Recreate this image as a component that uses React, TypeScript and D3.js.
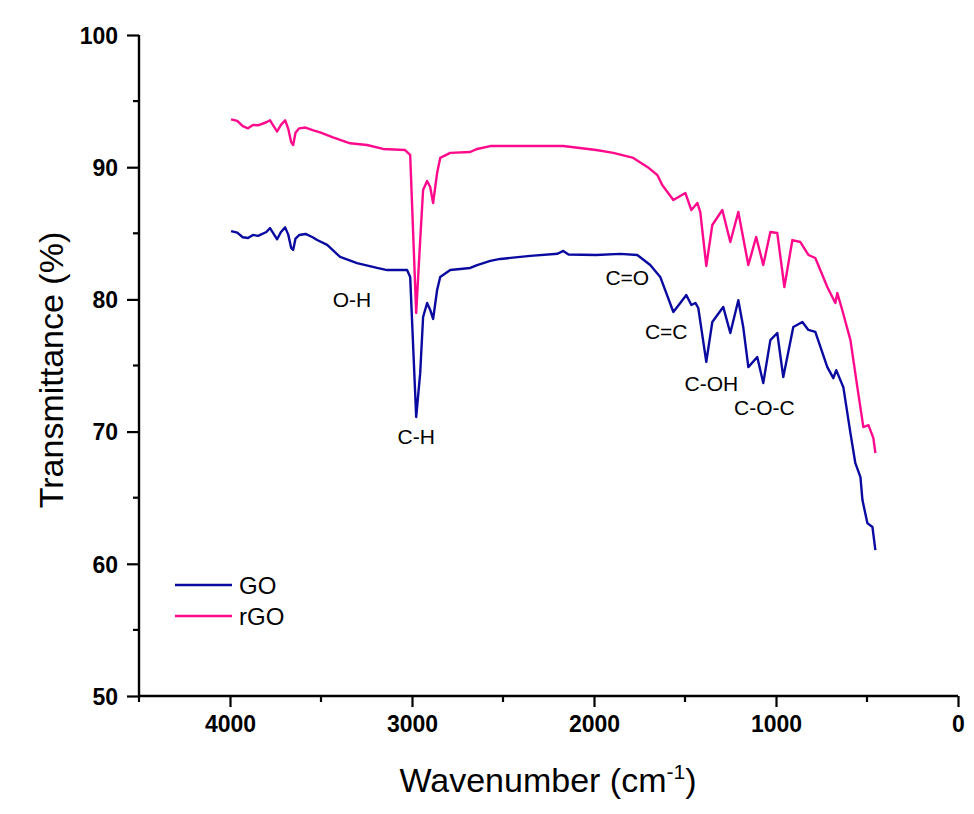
import React, { useEffect, useRef } from 'react';
import * as d3 from 'd3';

// FTIR spectra (wavenumber cm-1, transmittance %)
const waveGO = [3994, 3960, 3930, 3901, 3874, 3846, 3800, 3780, 3755, 3741, 3720, 3697, 3680, 3664, 3653, 3640, 3620, 3585, 3546, 3521, 3466, 3395, 3302, 3192, 3137, 3027, 3010, 2977, 2955, 2939, 2917, 2900, 2884, 2862, 2845, 2790, 2680, 2642, 2570, 2515, 2350, 2200, 2169, 2140, 1988, 1856, 1762, 1691, 1636, 1564, 1526, 1493, 1465, 1443, 1427, 1383, 1350, 1290, 1251, 1207, 1180, 1152, 1103, 1070, 1031, 993, 960, 905, 855, 822, 784, 718, 685, 669, 630, 591, 564, 536, 525, 498, 470, 454];
const transGO = [85.17, 85.05, 84.7, 84.64, 84.88, 84.8, 85.1, 85.4, 84.85, 84.55, 85.1, 85.45, 84.9, 83.9, 83.74, 84.6, 84.87, 84.95, 84.7, 84.49, 84.12, 83.21, 82.75, 82.38, 82.22, 82.22, 81.7, 71.1, 74.42, 78.67, 79.73, 79.2, 78.52, 80.71, 81.7, 82.22, 82.38, 82.6, 82.91, 83.06, 83.29, 83.45, 83.67, 83.4, 83.36, 83.44, 83.36, 82.6, 81.7, 79.05, 79.73, 80.33, 79.58, 79.73, 79.35, 75.27, 78.29, 79.43, 77.46, 79.94, 77.91, 74.88, 75.64, 73.67, 76.92, 77.46, 74.12, 77.91, 78.29, 77.69, 77.54, 74.88, 74.04, 74.65, 73.36, 69.88, 67.61, 66.56, 64.82, 63.08, 62.78, 61.04];

const waveRGO = [3994, 3960, 3930, 3901, 3874, 3846, 3800, 3780, 3755, 3741, 3720, 3697, 3680, 3664, 3653, 3640, 3620, 3585, 3546, 3505, 3434, 3340, 3247, 3159, 3038, 3010, 2977, 2955, 2939, 2917, 2900, 2884, 2862, 2845, 2790, 2680, 2642, 2570, 2515, 2169, 1988, 1894, 1784, 1707, 1652, 1625, 1564, 1498, 1465, 1432, 1416, 1383, 1350, 1295, 1251, 1207, 1152, 1109, 1070, 1031, 993, 954, 910, 866, 822, 784, 718, 674, 663, 636, 591, 553, 520, 492, 465, 454];
const transRGO = [93.62, 93.5, 93.1, 92.94, 93.2, 93.17, 93.4, 93.55, 93.0, 92.7, 93.2, 93.55, 92.9, 91.9, 91.68, 92.6, 92.94, 93.0, 92.8, 92.64, 92.26, 91.81, 91.68, 91.38, 91.3, 90.93, 78.97, 84.49, 88.27, 88.96, 88.5, 87.29, 89.56, 90.7, 91.08, 91.15, 91.38, 91.6, 91.6, 91.6, 91.3, 91.08, 90.7, 90.02, 89.41, 88.65, 87.52, 88.05, 86.76, 87.29, 86.61, 82.53, 85.63, 86.76, 84.34, 86.61, 82.6, 84.72, 82.6, 85.1, 85.02, 80.94, 84.49, 84.34, 83.36, 83.13, 80.94, 79.73, 80.48, 79.2, 76.92, 73.36, 70.34, 70.49, 69.51, 68.38];

const seriesNames = ['GO', 'rGO'];
const seriesColors = ['#0a0aa0', '#ff0a8c'];

const xTicks = [4000, 3000, 2000, 1000, 0];
const yTicks = [50, 60, 70, 80, 90, 100];

// band labels: text, wavenumber and transmittance of the baseline centre
const bandLabels = ['O-H', 'C-H', 'C=O', 'C=C', 'C-OH', 'C-O-C'];
const bandWave = [3330, 2977, 1817, 1603, 1355, 1064];
const bandTrans = [79.4, 69.05, 81.1, 77.0, 73.1, 71.25];

const FONT = '"Liberation Sans", Arial, Helvetica, sans-serif';

export default function App() {
  const ref = useRef<SVGSVGElement | null>(null);

  useEffect(() => {
    const svg = d3.select(ref.current);
    svg.selectAll('*').remove();

    const x = d3.scaleLinear().domain([4500, 0]).range([139, 958]);
    const y = d3.scaleLinear().domain([50, 100]).range([696, 35]);

    svg.append('rect').attr('width', 974).attr('height', 814).attr('fill', '#ffffff');

    // curves
    const data = [
      waveGO.map((w, i) => [w, transGO[i]]),
      waveRGO.map((w, i) => [w, transRGO[i]]),
    ];
    const line = d3.line<number[]>()
      .x(d => x(d[0]))
      .y(d => y(d[1]));
    data.forEach((pts, i) => {
      svg.append('path')
        .attr('d', line(pts))
        .attr('fill', 'none')
        .attr('stroke', seriesColors[i])
        .attr('stroke-width', 2.4)
        .attr('stroke-linejoin', 'round');
    });

    // Y axis
    const yAxis = svg.append('g').attr('transform', 'translate(139,0)');
    yAxis.call(
      d3.axisLeft(y).tickValues(yTicks).tickSize(12).tickFormat(d3.format('d'))
    );
    d3.range(55, 100, 10).forEach(v => {
      yAxis.append('line')
        .attr('x1', -6).attr('x2', 0)
        .attr('y1', y(v)).attr('y2', y(v))
        .attr('stroke', '#000').attr('stroke-width', 2.2);
    });

    // X axis
    const xAxis = svg.append('g').attr('transform', 'translate(0,696)');
    xAxis.call(
      d3.axisBottom(x).tickValues(xTicks).tickSize(11).tickFormat(d3.format('d'))
    );
    [4500, 3500, 2500, 1500, 500].forEach(v => {
      xAxis.append('line')
        .attr('x1', x(v)).attr('x2', x(v))
        .attr('y1', 0).attr('y2', 6)
        .attr('stroke', '#000').attr('stroke-width', 2.2);
    });

    [yAxis, xAxis].forEach(g => {
      g.select('.domain').attr('stroke', '#000').attr('stroke-width', 2.4);
      g.selectAll('.tick line').attr('stroke', '#000').attr('stroke-width', 2.2);
      g.selectAll('.tick text')
        .attr('fill', '#000')
        .style('font-family', FONT)
        .style('font-size', '23px')
        .style('font-weight', 'bold');
    });
    yAxis.select('.domain').attr('d', `M0,${y(100)}V${y(50)}`);
    xAxis.select('.domain').attr('d', `M${x(4500)},0H${x(0)}`);
    yAxis.selectAll('.tick text').attr('x', -21).attr('dy', '0.36em');
    xAxis.selectAll('.tick text').attr('y', 20);

    // axis titles
    svg.append('text')
      .attr('transform', 'translate(63,370) rotate(-90)')
      .attr('text-anchor', 'middle')
      .style('font-family', FONT)
      .style('font-size', '34px')
      .text('Transmittance (%)');

    const xt = svg.append('text')
      .attr('x', 548).attr('y', 792)
      .attr('text-anchor', 'middle')
      .style('font-family', FONT)
      .style('font-size', '34px');
    xt.append('tspan').text('Wavenumber (cm');
    xt.append('tspan').attr('dy', -13).style('font-size', '21px').text('-1');
    xt.append('tspan').attr('dy', 13).text(')');

    // band labels
    bandLabels.forEach((t, i) => {
      svg.append('text')
        .attr('x', x(bandWave[i])).attr('y', y(bandTrans[i]))
        .attr('text-anchor', 'middle')
        .style('font-family', FONT)
        .style('font-size', '21px')
        .attr('fill', '#000')
        .text(t);
    });

    // legend
    seriesNames.forEach((name, i) => {
      const ly = 585 + i * 31;
      svg.append('line')
        .attr('x1', 175).attr('x2', 232)
        .attr('y1', ly).attr('y2', ly)
        .attr('stroke', seriesColors[i]).attr('stroke-width', 2.4);
      svg.append('text')
        .attr('x', 239).attr('y', ly + 9)
        .style('font-family', FONT)
        .style('font-size', '24px')
        .text(name);
    });
  }, []);

  return (
    <svg
      ref={ref}
      width={974}
      height={814}
      style={{ position: 'absolute', left: 0, top: 0 }}
    />
  );
}
